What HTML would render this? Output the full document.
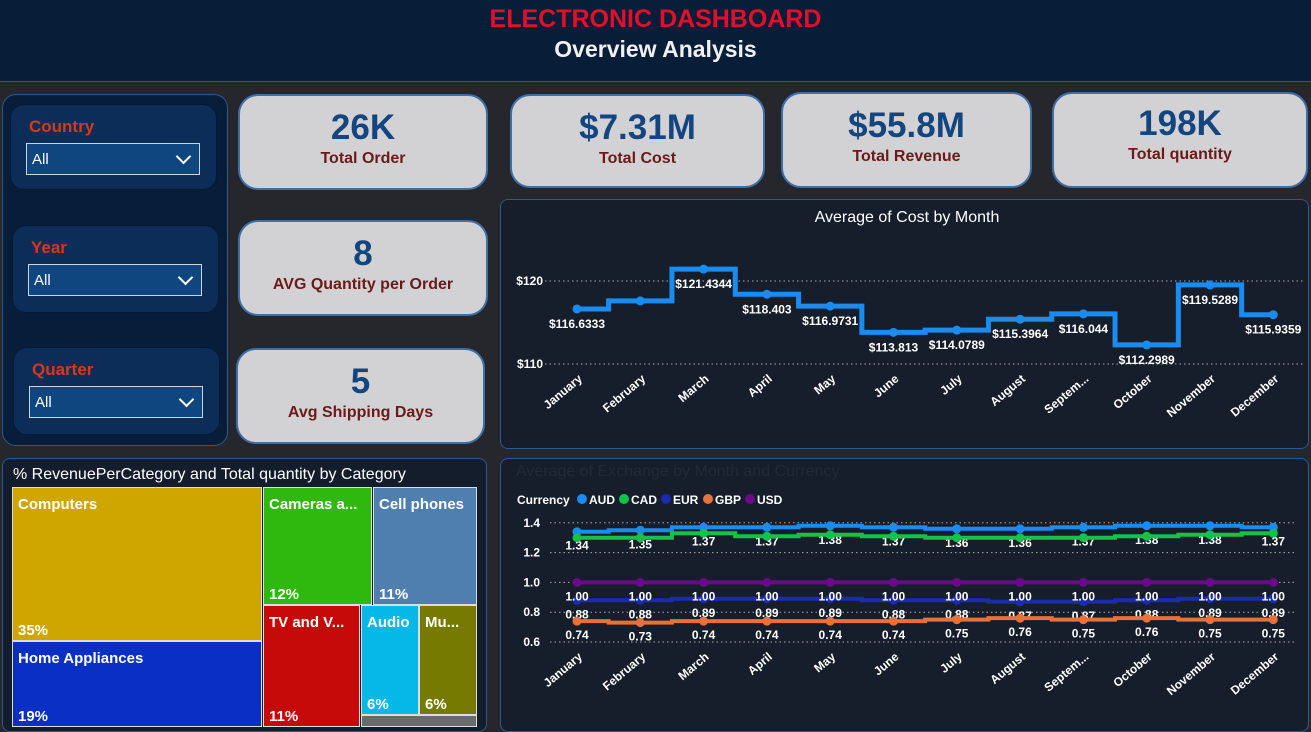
<!DOCTYPE html>
<html><head><meta charset="utf-8"><style>
body{margin:0;width:1311px;height:732px;overflow:hidden;background:#25272d;font-family:"Liberation Sans",sans-serif;position:relative}
.abs{position:absolute;box-sizing:border-box}
.hdr{left:0;top:0;width:1311px;height:82px;background:#081d38;border-bottom:1px solid #2b5a8c;text-align:center}
.card{background:#d2d2d4;border:2px solid #3d6fa8;border-radius:20px;text-align:center}
.card .v{color:#14457e;font-weight:bold;font-size:35px;margin-top:12px}
.card .l{color:#6b1a1a;font-size:16px;font-weight:bold;margin-top:2px}
.slicer{background:#0b2d58;border:1px solid #061a33;border-radius:14px}
.slicer .t{color:#d8381a;font-weight:bold;font-size:17px;position:absolute;left:18px;top:12px}
.dd{position:absolute;left:15px;top:38px;width:174px;height:32px;background:#0f4680;border:1px solid #c9d6e6;color:#fff;font-size:15px;padding:7px 0 0 5px;box-sizing:border-box}
.dd::after{content:"";position:absolute;right:10px;top:7px;width:9px;height:9px;border-right:2px solid #fff;border-bottom:2px solid #fff;transform:rotate(45deg)}
.panel{background:#161e2b;border:1px solid #2b5a8c;border-radius:8px}
</style></head><body>
<div class="abs hdr">
<div style="color:#e0102a;font-weight:bold;font-size:25px;margin-top:5px">ELECTRONIC DASHBOARD</div>
<div style="color:#f0f0f0;font-weight:bold;font-size:23px;margin-top:2px">Overview Analysis</div>
</div>
<div class="abs" style="left:2px;top:94px;width:226px;height:352px;background:#081d3a;border:1px solid #2b5a8c;border-radius:14px">
<div class="abs slicer" style="left:7px;top:9px;width:207px;height:86px"><div class="t">Country</div><div class="dd">All</div></div>
<div class="abs slicer" style="left:9px;top:130px;width:207px;height:88px"><div class="t">Year</div><div class="dd">All</div></div>
<div class="abs slicer" style="left:10px;top:252px;width:207px;height:88px"><div class="t">Quarter</div><div class="dd">All</div></div>
</div>
<div class="abs card" style="left:238px;top:94px;width:250px;height:96px"><div class="v">26K</div><div class="l">Total Order</div></div>
<div class="abs card" style="left:510px;top:94px;width:255px;height:94px"><div class="v">$7.31M</div><div class="l">Total Cost</div></div>
<div class="abs card" style="left:781px;top:92px;width:251px;height:96px"><div class="v">$55.8M</div><div class="l">Total Revenue</div></div>
<div class="abs card" style="left:1052px;top:92px;width:256px;height:96px"><div class="v" style="margin-top:10px">198K</div><div class="l">Total quantity</div></div>
<div class="abs card" style="left:238px;top:220px;width:250px;height:96px"><div class="v">8</div><div class="l">AVG Quantity per Order</div></div>
<div class="abs card" style="left:236px;top:348px;width:249px;height:96px"><div class="v">5</div><div class="l">Avg Shipping Days</div></div>

<div class="abs" style="left:2px;top:458px;width:485px;height:274px;background:#141d2c;border:1px solid #2b5a8c;border-radius:8px">
<div style="color:#fff;font-size:16px;position:absolute;left:10px;top:7px">% RevenuePerCategory and Total quantity by Category</div>
</div>
<div id="tm" class="abs" style="left:0;top:0;width:1311px;height:732px"></div>

<div class="abs panel" style="left:500px;top:199px;width:809px;height:250px"></div>
<div class="abs panel" style="left:500px;top:458px;width:809px;height:274px"></div>
<svg class="abs" style="left:0;top:0" width="1311" height="732" id="sv"></svg>
<script>
// treemap
const tmNames=["Computers","Home Appliances","Cameras a...","Cell phones","TV and V...","Audio","Mu..."];
const tmPct=["35%","19%","12%","11%","11%","6%","6%"];
const tmColors=["#cfa500","#0a2fc4","#2fb80e","#4f7fae","#c60a0a","#05b8e8","#767a00"];
const tmRects=[[12,487,250,154],[12,641,250,86],[263,487,109,118],[373,487,104,118],[263,605,97,122],[361,605,58,110],[419,605,58,110]];
const tm=document.getElementById('tm');
tmNames.forEach((n,i)=>{const r=tmRects[i];const d=document.createElement('div');


d.className='abs';d.style.cssText=`left:${r[0]}px;top:${r[1]}px;width:${r[2]}px;height:${r[3]}px;background:${tmColors[i]};border:1px solid #ddd;color:#fff;font-weight:bold;font-size:15px`;
d.innerHTML=`<div style="position:absolute;left:5px;top:8px;white-space:nowrap">${n}</div><div style="position:absolute;left:5px;bottom:1px">${tmPct[i]}</div>`;tm.appendChild(d);});
const g=document.createElement('div');g.className='abs';g.style.cssText='left:361px;top:715px;width:116px;height:12px;background:#6a6a6a;border:1px solid #ddd';


tm.appendChild(g);

const months=["January","February","March","April","May","June","July","August","Septem...","October","November","December"];
const costVals=[116.6333,117.6,121.4344,118.403,116.9731,113.813,114.0789,115.3964,116.044,112.2989,119.5289,115.9359];
const costLabels=["$116.6333","","$121.4344","$118.403","$116.9731","$113.813","$114.0789","$115.3964","$116.044","$112.2989","$119.5289","$115.9359"];
const costTicks=[110,120];
const currencies=["AUD","CAD","EUR","GBP","USD"];
const curColors=["#1a8cf0","#12c24a","#1a2bb0","#e8703a","#6a0a8a"];
const audVals=[1.34,1.35,1.37,1.37,1.38,1.37,1.36,1.36,1.37,1.38,1.38,1.37];
const cadVals=[1.30,1.30,1.33,1.31,1.32,1.31,1.30,1.30,1.30,1.31,1.32,1.33];
const eurVals=[0.88,0.88,0.89,0.89,0.89,0.88,0.88,0.87,0.87,0.88,0.89,0.89];
const gbpVals=[0.74,0.73,0.74,0.74,0.74,0.74,0.75,0.76,0.75,0.76,0.75,0.75];
const usdVals=[1.00,1.00,1.00,1.00,1.00,1.00,1.00,1.00,1.00,1.00,1.00,1.00];
const exTicks=[0.6,0.8,1.0,1.2,1.4];

const sv=document.getElementById('sv');const NS='http://www.w3.org/2000/svg';
function el(t,a,txt){const e=document.createElementNS(NS,t);for(const k in a)e.setAttribute(k,a[k]);if(txt!==undefined)e.textContent=txt;sv.appendChild(e);return e;}
const xm=i=>577+i*63.3;
const yc=v=>364-(v-110)*8.3;
const ye=v=>642-(v-0.6)*149;
function stepPath(vals,yf){let d=`M${xm(0)},${yf(vals[0])}`;for(let i=1;i<vals.length;i++){const mx=(xm(i-1)+xm(i))/2;d+=` H${mx} V${yf(vals[i])}`;}d+=` H${xm(vals.length-1)}`;return d;}
function monthLabels(y0,name){months.forEach((m,i)=>{const t=el('text',{x:xm(i)+6,y:y0,'text-anchor':'end',transform:`rotate(-40 ${xm(i)+6} ${y0})`,fill:'#fff','font-size':12,'font-weight':'bold'},m);

});}
// cost chart
el('text',{x:907,y:222,'text-anchor':'middle',fill:'#fff','font-size':16},'Average of Cost by Month');
costTicks.forEach(v=>{el('line',{x1:545,x2:1305,y1:yc(v),y2:yc(v),stroke:'#aaa','stroke-dasharray':'1.5 3'});
const t=el('text',{x:543,y:yc(v)+4,'text-anchor':'end',fill:'#fff','font-size':12,'font-weight':'bold'},'$'+v);

});
const cp=el('path',{d:stepPath(costVals,yc),fill:'none',stroke:'#1a8cf0','stroke-width':5});


costVals.forEach((v,i)=>{const c=el('circle',{cx:xm(i),cy:yc(v),r:4.5,fill:'#1a8cf0'});


if(costLabels[i]){const t=el('text',{x:xm(i),y:yc(v)+19,'text-anchor':'middle',fill:'#fff','font-size':12,'font-weight':'bold'},costLabels[i]);

}});
monthLabels(380,'cost');
// exchange chart
el('text',{x:516,y:476,fill:'#222a38','font-size':16},'Average of Exchange by Month and Currency');
el('text',{x:517,y:504,fill:'#fff','font-size':12,'font-weight':'bold'},'Currency');
currencies.forEach((c,i)=>{const x=582+i*42;const ci=el('circle',{cx:x,cy:499,r:5,fill:curColors[i]});


el('text',{x:x+7,y:504,fill:'#fff','font-size':12,'font-weight':'bold'},c);});
exTicks.forEach(v=>{el('line',{x1:550,x2:1295,y1:ye(v),y2:ye(v),stroke:'#aaa','stroke-dasharray':'1.5 3'});
const t=el('text',{x:540,y:ye(v)+4,'text-anchor':'end',fill:'#fff','font-size':12,'font-weight':'bold'},v.toFixed(1));

});
const series=[audVals,cadVals,eurVals,gbpVals,usdVals];
const labelOff=[18,null,-1,18,18];
series.forEach((vals,s)=>{const p=el('path',{d:stepPath(vals,ye),fill:'none',stroke:curColors[s],'stroke-width':4});


vals.forEach((v,i)=>{const c=el('circle',{cx:xm(i),cy:ye(v),r:4.5,fill:curColors[s]});


if(labelOff[s]!==null){const t=el('text',{x:xm(i),y:ye(v)+(s==2?-2:labelOff[s])+ (s==2?-0:0),'text-anchor':'middle',fill:'#fff','font-size':12,'font-weight':'bold'},v.toFixed(2));
if(s==2)t.setAttribute('y',ye(v)+18);

}});});
monthLabels(658,'exchange');
</script>
</body></html>
